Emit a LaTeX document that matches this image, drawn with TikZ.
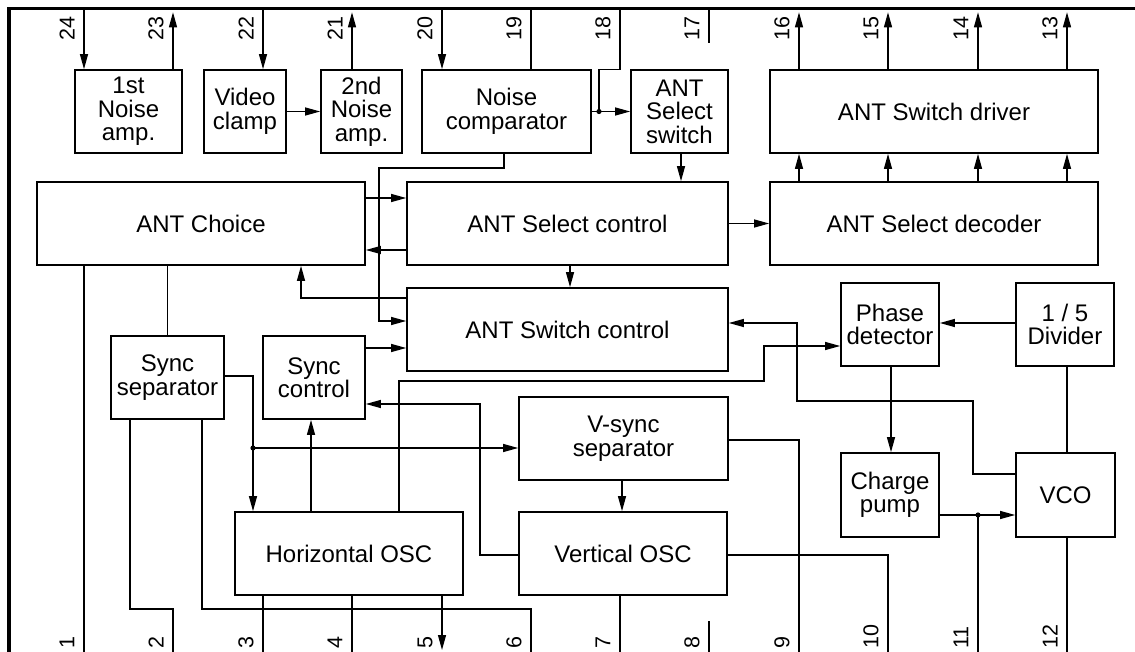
\documentclass[tikz,border=0pt]{standalone}
\usepackage{fontspec}
\setmainfont{Liberation Sans}
\usetikzlibrary{arrows.meta}
\begin{document}
\begin{tikzpicture}[x=1pt,y=1pt,
  blk/.style={draw, line width=1.7pt, inner sep=0pt, align=center,
    font=\fontsize{24}{23.5}\selectfont, minimum height=83pt},
  wire/.style={line width=1.2pt},
  arr/.style={wire, -{Triangle[length=15pt,width=8pt]}},
  pinlbl/.style={rotate=90, inner sep=0pt, font=\fontsize{21.5}{21.5}\selectfont},
  dot/.style={fill=black}]
\useasboundingbox (0,0) rectangle (1135,-652);
% frame
\draw[line width=3.4pt, line join=miter] (8.8,-652) -- (8.8,-8.8) -- (1135,-8.8);
% pin coordinates
\foreach \n/\x in {24/84,23/173,22/263,21/352,20/442,19/531,18/620,17/709,16/799,15/888,14/978,13/1067}
  {\coordinate (t\n) at (\x,-8.8);
   \node[pinlbl, anchor=east] (lt\n) at (\x-17,-16) {\n};}
\foreach \n/\x in {1/84,2/173,3/263,4/352,5/442,6/531,7/620,8/709,9/799,10/888,11/978,12/1067}
  {\coordinate (b\n) at (\x,-652);
   \node[pinlbl, anchor=west] (lb\n) at (\x-17,-649) {\n};}
% blocks
\node[blk, minimum width=107pt] (na1) at (128.5,-111.5) {1st\\Noise\\amp.};
\node[blk, minimum width=82pt] (vc) at (245,-111.5) {Video\\clamp};
\node[blk, minimum width=81pt] (na2) at (361.5,-111.5) {2nd\\Noise\\amp.};
\node[blk, minimum width=169pt] (nc) at (506.5,-111.5) {Noise\\comparator};
\node[blk, minimum width=97pt] (ass) at (679.5,-111.5) {ANT\\Select\\switch};
\node[blk, minimum width=328pt] (asd) at (934,-111.5) {ANT Switch driver};
\node[blk, minimum width=328pt] (ach) at (201,-223.5) {ANT Choice};
\node[blk, minimum width=321pt] (asc) at (567.5,-223.5) {ANT Select control};
\node[blk, minimum width=328pt] (adec) at (934,-223.5) {ANT Select decoder};
\node[blk, minimum width=321pt] (aswc) at (567.5,-329.5) {ANT Switch control};
\node[blk, minimum width=98pt] (pd) at (890,-324.5) {Phase\\detector};
\node[blk, minimum width=98pt] (div) at (1065,-324.5) {1 / 5\\Divider};
\node[blk, minimum width=113pt] (ss) at (167.5,-377.5) {Sync\\separator};
\node[blk, minimum width=102pt] (sc) at (314,-377.5) {Sync\\control};
\node[blk, minimum width=209pt] (vss) at (623.5,-438.5) {V-sync\\separator};
\node[blk, minimum width=228pt] (hosc) at (349,-553.5) {Horizontal OSC};
\node[blk, minimum width=208pt] (vosc) at (623,-553.5) {Vertical OSC};
\node[blk, minimum width=98pt, minimum height=84pt] (cp) at (890,-495) {Charge\\pump};
\node[blk, minimum width=99pt, minimum height=84pt] (vco) at (1065.5,-495) {VCO};
% junction coordinates
\coordinate (d0) at (599,-111.5);
\coordinate (j1) at (379,-168);
\coordinate (d1) at (253,-448);
\coordinate (j2) at (764,-381);
\coordinate (j3) at (480,-404);
\coordinate (j4) at (973,-401);
\coordinate (j5) at (797,-401);
\coordinate (h609) at (0,-609);
% top pins
\draw[arr] (t24) -- (t24 |- na1.north);
\draw[arr] (t23 |- na1.north) -- ([yshift=-3.5]t23);
\draw[arr] (t22) -- (t22 |- vc.north);
\draw[arr] (t21 |- na2.north) -- ([yshift=-3.5]t21);
\draw[arr] (vc.east) -- (na2.west);
\draw[arr] (t20) -- (t20 |- nc.north);
\draw[wire] (t19) -- (t19 |- nc.north);
\draw[wire] (t18) -- (t18 |- nc.north) -| (d0);
\draw[arr] (nc.east) -- (ass.west);
\fill[dot] (d0) circle (2.6);
\draw[wire] (t17) -- ++(0,-34);
\foreach \p in {t16,t15,t14,t13}{
  \draw[arr] (\p |- asd.north) -- ([yshift=-3.5]\p);
  \draw[arr] (\p |- adec.north) -- (\p |- asd.south);}
% middle
\draw[arr] ([xshift=1.5]ass.south) -- ([xshift=1.5]ass.south |- asc.north);
\draw[arr] (asc.east) -- (adec.west);
\draw[arr] ([yshift=25.5]ach.east) -- ([yshift=25.5]ach.east -| asc.west);
\draw[arr] ([yshift=-26.5]asc.west) -- ([yshift=-26.5]asc.west -| ach.east);
\draw[arr] ([xshift=2.5]asc.south) -- ([xshift=2.5]asc.south |- aswc.north);
\draw[arr] ([xshift=-2.5]nc.south) |- (j1) |- ([yshift=8.5]aswc.west);
\draw[arr] ([yshift=31.5]aswc.west) -| ([xshift=100]ach.south);
\draw[arr] ([yshift=29.5]sc.east) -- ([yshift=29.5]sc.east -| aswc.west);
\draw[wire] (b1 |- ach.south) -- (b1);
\draw[wire] (ss.north |- ach.south) -- (ss.north);
% sync separator outputs
\draw[wire] ([yshift=1.5]ss.east) -| (d1);
\draw[arr] (d1) -- (d1 |- hosc.north);
\draw[arr] (d1) -- (d1 -| vss.west);
\fill[dot] (d1) circle (2.6);
\draw[wire] ([xshift=-37.5]ss.south) |- (b2 |- h609) -- (b2);
\draw[wire] ([xshift=34.5]ss.south) |- (b6 |- h609) -- (b6);
% horizontal osc
\draw[arr] ([xshift=-38]hosc.north) -- ([xshift=-38]hosc.north |- sc.south);
\draw[arr] ([xshift=50]hosc.north) |- (j2) |- ([yshift=-21.5]pd.west);
\draw[wire] (b3 |- hosc.south) -- (b3);
\draw[wire] (b4 |- hosc.south) -- (b4);
\draw[arr] (b5 |- hosc.south) -- ([yshift=2]b5);
% vertical
\draw[arr] ([yshift=-1.5]vosc.west) -| (j3) -- (j3 -| sc.east);
\draw[arr] ([xshift=-1.5]vss.south) -- ([xshift=-1.5]vss.south |- vosc.north);
\draw[wire] ([yshift=-1.5]vss.east) -| (b9);
\draw[wire] ([yshift=-1.5]vosc.east) -| (b10);
\draw[wire] (b7 |- vosc.south) -- (b7);
\draw[wire] (b8) -- ++(0,31);
% PLL
\draw[arr] ([xshift=1]pd.south) -- ([xshift=1]pd.south |- cp.north);
\draw[arr] ([yshift=1.5]div.west) -- ([yshift=1.5]div.west -| pd.east);
\draw[wire] (b12 |- div.south) -- (b12 |- vco.north);
\draw[wire] (b12 |- vco.south) -- (b12);
\draw[arr] ([yshift=-20]cp.east) -- ([yshift=-20]cp.east -| vco.west);
\fill[dot] (b11 |- 0,-515) circle (2.6);
\draw[wire] (b11 |- 0,-515) -- (b11);
\draw[arr] ([yshift=21]vco.west) -| (j4) -- (j5) |- ([yshift=6.5]aswc.east);
\end{tikzpicture}
\end{document}
